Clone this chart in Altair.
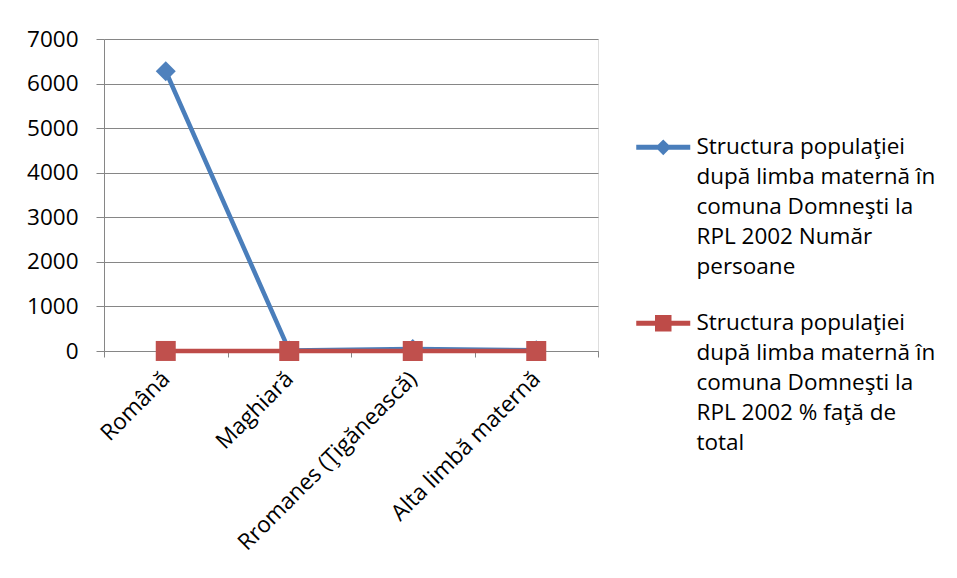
import json
import altair as alt
import pandas as pd

categories = ["Română", "Maghiară", "Rromanes (Ţigănească)", "Alta limbă maternă"]
series_names = [
    "Structura populaţiei după limba maternă în comuna Domneşti la RPL 2002 Număr persoane",
    "Structura populaţiei după limba maternă în comuna Domneşti la RPL 2002 % faţă de total",
]
series_lines = [
    ["Structura populaţiei", "după limba maternă în", "comuna Domneşti la", "RPL 2002 Număr", "persoane"],
    ["Structura populaţiei", "după limba maternă în", "comuna Domneşti la", "RPL 2002 % faţă de", "total"],
]
numar_persoane = [6276, 10, 45, 15]
procent_total = [0.989, 0.002, 0.007, 0.002]
y_ticks = [0, 1000, 2000, 3000, 4000, 5000, 6000, 7000]

line_colors = ["#4A7EBB", "#BE4B48"]
marker_colors = ["#4F81BD", "#C0504D"]
shapes = ["diamond", "square"]
legend_paths = [
    "M-3.6,-0.33H3.6V0.33H-3.6Z M0,-1.05L1.05,0L0,1.05L-1.05,0Z",
    "M-3.6,-0.33H3.6V0.33H-3.6Z M-1.1,-1.1H1.1V1.1H-1.1Z",
]

rows = []
for i, c in enumerate(categories):
    rows.append({"cat": c, "series": series_names[0], "val": numar_persoane[i]})
for i, c in enumerate(categories):
    rows.append({"cat": c, "series": series_names[1], "val": procent_total[i]})
df = pd.DataFrame(rows)

FONT = "Open Sans"
FS = 22.5

label_expr = "datum.label == %s ? %s : %s" % (
    json.dumps(series_names[0]), json.dumps(series_lines[0]), json.dumps(series_lines[1])
)

x_enc = alt.X(
    "cat:N",
    sort=categories,
    bandPosition=0.5,
    scale=alt.Scale(type="band", paddingInner=0, paddingOuter=0),
    axis=alt.Axis(
        title=None,
        labelAngle=-45,
        labelAlign="right",
        labelBaseline="middle",
        labelFont=FONT,
        labelFontSize=FS,
        labelColor="#000000",
        labelPadding=18,
        tickBand="extent",
        tickSize=6,
        tickColor="#868686",
        domainColor="#868686",
        grid=False,
        labelLimit=400,
    ),
)
y_enc = alt.Y(
    "val:Q",
    scale=alt.Scale(domain=[0, 7000], nice=False, zero=True),
    axis=alt.Axis(
        title=None,
        values=y_ticks,
        format="d",
        labelFont=FONT,
        labelFontSize=FS,
        labelColor="#000000",
        labelPadding=18,
        tickSize=8,
        tickColor="#868686",
        domainColor="#868686",
        gridColor="#868686",
        gridWidth=1,
    ),
)

lines = alt.Chart(df).mark_line(strokeWidth=4.5, strokeJoin="miter").encode(
    x=x_enc,
    y=y_enc,
    color=alt.Color("series:N", scale=alt.Scale(domain=series_names, range=line_colors), legend=None),
)
points = alt.Chart(df).mark_point(filled=True, size=400, opacity=1).encode(
    x=x_enc,
    y=y_enc,
    color=alt.Color("series:N", scale=alt.Scale(domain=series_names, range=marker_colors), legend=None),
    shape=alt.Shape("series:N", scale=alt.Scale(domain=series_names, range=shapes), legend=None),
)

def make_legend():
    return alt.Legend(
        title=None,
        orient="none",
        legendX=533,
        legendY=97,
        labelExpr=label_expr,
        labelFont=FONT,
        labelFontSize=FS,
        labelColor="#000000",
        labelLimit=500,
        symbolSize=225,
        symbolOpacity=1,
        rowPadding=33,
        labelOffset=22,
        symbolOffset=15,
    )

legend_layer = alt.Chart(df).mark_point(filled=True, size=225, opacity=0).encode(
    x=x_enc,
    y=y_enc,
    color=alt.Color("series:N", scale=alt.Scale(domain=series_names, range=line_colors), legend=make_legend()),
    shape=alt.Shape("series:N", scale=alt.Scale(domain=series_names, range=legend_paths), legend=make_legend()),
)

chart = (
    alt.layer(lines, points, legend_layer)
    .resolve_scale(color="independent", shape="independent")
    .properties(
        width=494,
        height=312,
        padding={"left": 96, "top": 31, "right": 345, "bottom": 210},
        autosize=alt.AutoSizeParams(type="none"),
        background="#ffffff",
    )
    .configure_view(stroke=None)
    .configure(style={"guide-label": {"lineHeight": 30}})
)

chart.save("out.html", embed_options={"renderer": "svg", "actions": False})
